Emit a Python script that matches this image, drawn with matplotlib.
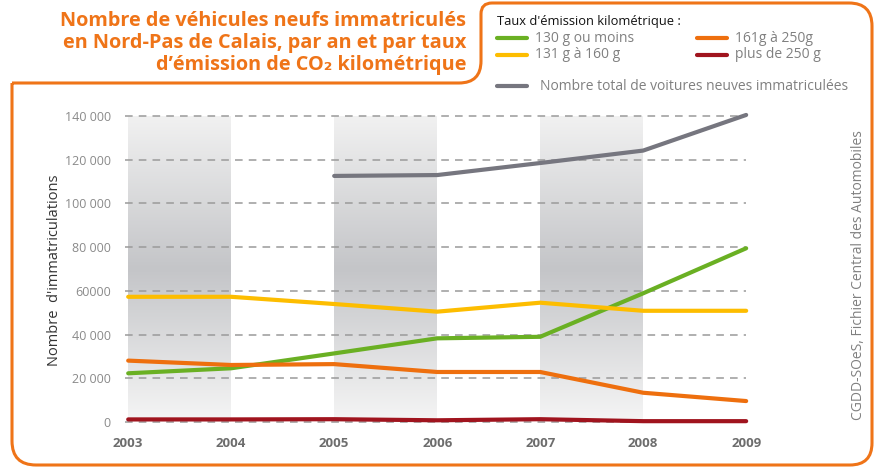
import numpy as np
import matplotlib.pyplot as plt
from matplotlib.path import Path
from matplotlib.patches import PathPatch
from matplotlib.colors import LinearSegmentedColormap

plt.rcParams['font.family'] = ['Open Sans', 'DejaVu Sans']

annees = [2003, 2004, 2005, 2006, 2007, 2008, 2009]
moins_130 = [22300, 24600, 31400, 38300, 39000, 58900, 79500]
de_131_160 = [57300, 57300, 54000, 50500, 54600, 50900, 50900]
de_161_250 = [28100, 26100, 26500, 22900, 22900, 13400, 9600]
plus_250 = [1200, 1200, 1300, 800, 1300, 400, 400]
total = [np.nan, np.nan, 112600, 113000, 118500, 124200, 140500]

y_ticks = [0, 20000, 40000, 60000, 80000, 100000, 120000, 140000]
y_labels = ["0", "20 000", "40 000", "60000", "80 000", "100 000", "120 000", "140 000"]

series = [
    ("130 g ou moins", moins_130, "#6ab023"),
    ("131 g à 160 g", de_131_160, "#fdbd00"),
    ("161g à 250g", de_161_250, "#ee6f0e"),
    ("plus de 250 g", plus_250, "#a0141e"),
]
gris = "#76767f"
orange = "#ef7418"

W, H = 881, 468
fig = plt.figure(figsize=(W / 100, H / 100), dpi=100)

# fond : cadre, titre, legende (coordonnees en pixels)
bg = fig.add_axes([0, 0, 1, 1])
bg.set_xlim(0, W)
bg.set_ylim(H, 0)
bg.axis("off")

verts = [(12, 83), (459, 83), (481, 83), (481, 61), (481, 14), (481, 3), (492, 3),
         (849, 3), (872, 3), (872, 26), (872, 443), (872, 465), (850, 465),
         (36, 465), (12, 465), (12, 441), (12, 83)]
codes = [Path.MOVETO, Path.LINETO, Path.CURVE3, Path.CURVE3, Path.LINETO, Path.CURVE3, Path.CURVE3,
         Path.LINETO, Path.CURVE3, Path.CURVE3, Path.LINETO, Path.CURVE3, Path.CURVE3,
         Path.LINETO, Path.CURVE3, Path.CURVE3, Path.LINETO]
bg.add_patch(PathPatch(Path(verts, codes), facecolor="none", edgecolor=orange, lw=2.2))

titre = ["Nombre de véhicules neufs immatriculés",
         "en Nord-Pas de Calais, par an et par taux",
         "d’émission de CO₂ kilométrique"]
for i, ligne in enumerate(titre):
    bg.text(466, 26 + 22 * i, ligne, ha="right", va="baseline", color=orange,
            fontsize=14.3, fontweight="bold")

bg.text(497, 21, "Taux d'émission kilométrique :", ha="left", va="center",
        color="#111111", fontsize=9.3)
positions = [(497, 38), (497, 55), (697, 38), (697, 55)]
for (nom, vals, couleur), (x0, y0) in zip(series, positions):
    bg.plot([x0, x0 + 30], [y0, y0], color=couleur, lw=3, solid_capstyle="round")
    bg.text(x0 + 38, y0, nom, ha="left", va="center", color="#808080", fontsize=10)
bg.plot([497, 527], [86, 86], color=gris, lw=3, solid_capstyle="round")
bg.text(540, 86, "Nombre total de voitures neuves immatriculées", ha="left",
        va="center", color="#808080", fontsize=10)

bg.text(858, 275, "CGDD-SOeS, Fichier Central des Automobiles", rotation=90,
        ha="center", va="center", color="#808080", fontsize=10)
bg.text(55, 270, "Nombre  d'immatriculations", rotation=90, ha="center",
        va="center", color="#333333", fontsize=10.5)

# graphique
ax = fig.add_axes([0.1385, 0.0842, 0.7178, 0.6912])
ax.set_facecolor("none")

degrade = LinearSegmentedColormap.from_list(
    "bande", [(0, "#f5f5f5"), (0.5, "#c4c5c8"), (1, "#f1f1f1")])
grad = np.linspace(0, 1, 256).reshape(-1, 1)
for debut in [2003, 2005, 2007]:
    ax.imshow(grad, cmap=degrade, aspect="auto", origin="lower",
              extent=[debut, debut + 1, 0, 140000], zorder=0)

ax.hlines(y_ticks, 2002.97, 2009, colors="#9a9a9a", linestyles=(0, (5, 4)),
          lw=1.1, zorder=1)

for nom, vals, couleur in series:
    ax.plot(annees, vals, color=couleur, lw=3, solid_capstyle="round", zorder=3)
ax.plot(annees, total, color=gris, lw=3, solid_capstyle="round", zorder=3)

ax.set_xlim(2002.94, 2009.08)
ax.set_ylim(-3000, 145000)
ax.set_yticks(y_ticks)
ax.set_yticklabels(y_labels, color="#8a8a8a", fontsize=9)
ax.set_xticks(annees)
ax.set_xticklabels([str(a) for a in annees], color="#6d6d6d", fontsize=9.5,
                   fontweight="bold")
ax.tick_params(length=0, pad=8)
ax.tick_params(axis="x", pad=6)
for s in ax.spines.values():
    s.set_visible(False)

fig.savefig("out.png", dpi=100)
